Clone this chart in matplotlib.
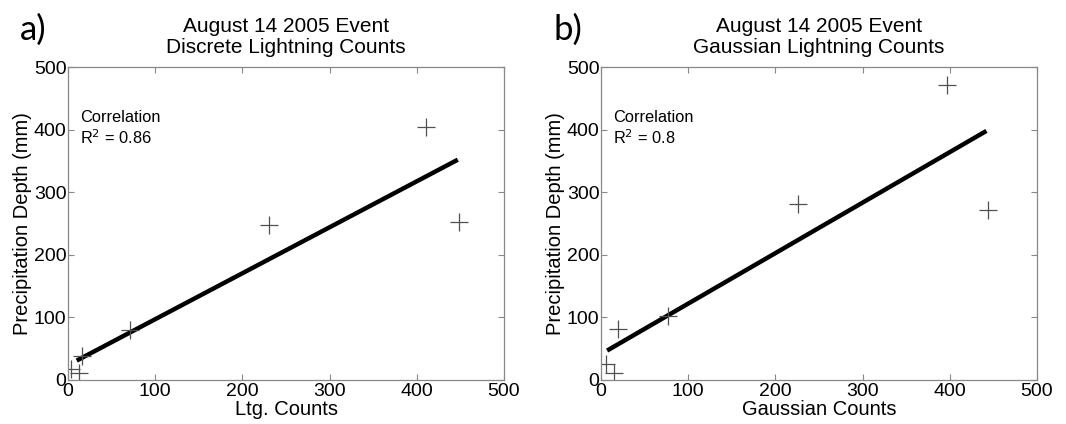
import matplotlib
matplotlib.use('Agg')
import matplotlib.pyplot as plt

plt.rcParams['font.family'] = ['Liberation Sans', 'DejaVu Sans']

# panel a) discrete lightning counts
ltg_counts = [3, 13, 16, 71, 231, 448, 411]
ltg_depth = [18, 11, 38, 80, 247, 253, 405]
ltg_fit_x = [10, 447]
ltg_fit_y = [31, 352]

# panel b) gaussian lightning counts
gauss_counts = [6, 15, 20, 77, 226, 397, 444]
gauss_depth = [26, 11, 81, 103, 282, 472, 271]
gauss_fit_x = [7, 442]
gauss_fit_y = [47, 398]

panels = [
    ('a)', 'August 14 2005 Event\nDiscrete Lightning Counts', 'Ltg. Counts',
     ltg_counts, ltg_depth, ltg_fit_x, ltg_fit_y, 'Correlation\nR$^2$ = 0.86'),
    ('b)', 'August 14 2005 Event\nGaussian Lightning Counts', 'Gaussian Counts',
     gauss_counts, gauss_depth, gauss_fit_x, gauss_fit_y, 'Correlation\nR$^2$ = 0.8'),
]

fig = plt.figure(figsize=(10.66, 4.24), dpi=100)
lefts = [0.0638, 0.5638]

for left, (tag, title, xlabel, xs, ys, fx, fy, note) in zip(lefts, panels):
    ax = fig.add_axes([left, 0.1038, 0.409, 0.738])
    ax.plot(fx, fy, color='black', lw=3.2, solid_capstyle='butt')
    ax.plot(xs, ys, ls='none', marker='+', ms=13, mew=0.9, color='#505050')
    ax.set_xlim(0, 500)
    ax.set_ylim(0, 500)
    ax.set_xticks([0, 100, 200, 300, 400, 500])
    ax.set_yticks([0, 100, 200, 300, 400, 500])
    ax.tick_params(direction='in', top=True, right=True, length=4, color='#888888',
                   labelsize=14, pad=1)
    ax.tick_params(axis='x', pad=2)
    for s in ax.spines.values():
        s.set_color('#888888')
        s.set_linewidth(0.9)
    ax.set_xlabel(xlabel, fontsize=14.5, labelpad=0)
    ax.set_ylabel('Precipitation Depth (mm)', fontsize=14.5, labelpad=1)
    ax.set_title(title, fontsize=15, pad=10, linespacing=1.15)
    ax.text(14, 402, note, fontsize=11.8, va='center', linespacing=1.2)
    fig.text(left - 0.045, 0.905, tag, fontsize=25, family=['Lato', 'DejaVu Sans'])

plt.savefig('out.png', dpi=100)
